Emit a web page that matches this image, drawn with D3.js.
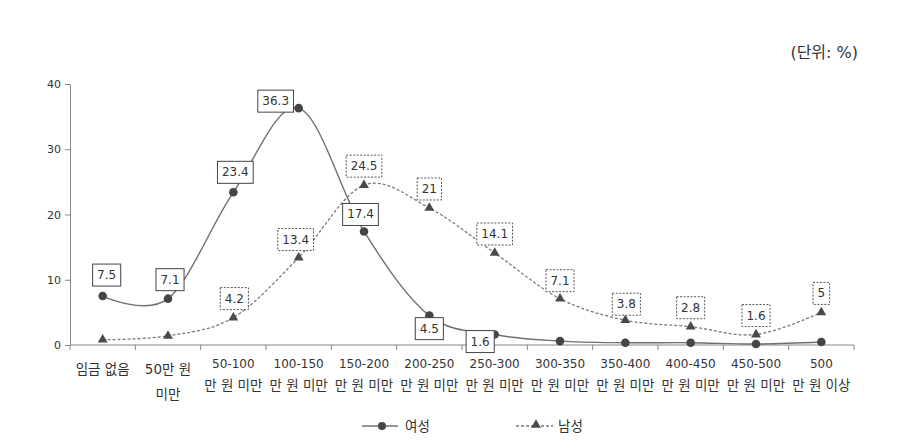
<!DOCTYPE html>
<html>
<head>
<meta charset="utf-8">
<script src="https://cdn.jsdelivr.net/npm/d3@7"></script>
<style>
  html, body { margin: 0; padding: 0; background: #fff; }
  svg { display: block; }
  text { font-family: "DejaVu Sans", "Noto Sans CJK KR", sans-serif; fill: #333; }
</style>
</head>
<body>
<svg id="chart" width="899" height="448"></svg>
<script>
// ---- data ----
const categories = ["임금 없음", "50만 원 미만", "50-100 만 원 미만", "100-150 만 원 미만", "150-200 만 원 미만",
  "200-250 만 원 미만", "250-300 만 원 미만", "300-350 만 원 미만", "350-400 만 원 미만", "400-450 만 원 미만",
  "450-500 만 원 미만", "500 만 원 이상"];
const categoryLines = [["임금 없음"], ["50만 원", "미만"], ["50-100", "만 원 미만"], ["100-150", "만 원 미만"],
  ["150-200", "만 원 미만"], ["200-250", "만 원 미만"], ["250-300", "만 원 미만"], ["300-350", "만 원 미만"],
  ["350-400", "만 원 미만"], ["400-450", "만 원 미만"], ["450-500", "만 원 미만"], ["500", "만 원 이상"]];
const women = [7.5, 7.1, 23.4, 36.3, 17.4, 4.5, 1.6, 0.6, 0.35, 0.35, 0.15, 0.45];
const men = [0.8, 1.4, 4.2, 13.4, 24.5, 21, 14.1, 7.1, 3.8, 2.8, 1.6, 5];
const womenLabels = ["7.5", "7.1", "23.4", "36.3", "17.4", "4.5", "1.6", null, null, null, null, null];
const menLabels = [null, null, "4.2", "13.4", "24.5", "21", "14.1", "7.1", "3.8", "2.8", "1.6", "5"];
const yTicks = [0, 10, 20, 30, 40];
const seriesNames = ["여성", "남성"];
const unitText = "(단위: %)";

// ---- layout (positions / styles) ----
const plot = { left: 70, right: 854, top: 84, bottom: 345 };
const womenLabelOffset = [[4, -21], [2, -19], [2, -20], [-23, -7], [-3.5, -17], [0, 13], [-14.5, 7]];
const menLabelOffset = { 2: [1, -19], 3: [-3, -18], 7: [0, -18], 8: [1, -16] };
const menDefaultOffset = [0, -19];

const svg = d3.select("#chart");

const x = d3.scaleBand().domain(categories).range([plot.left, plot.right]).padding(0);
const cx = d => x(d) + x.bandwidth() / 2;
const y = d3.scaleLinear().domain([0, 40]).range([plot.bottom, plot.top]);

const axisColor = "#868686";

// y axis
const yAxis = d3.axisLeft(y).tickValues(yTicks).tickSize(5).tickPadding(4);
const gy = svg.append("g").attr("transform", `translate(${plot.left},0)`).call(yAxis);
gy.select(".domain").attr("stroke", axisColor);
gy.selectAll(".tick line").attr("stroke", axisColor);
gy.selectAll(".tick text").style("font-size", "11px").attr("fill", "#222").style("font-family", "DejaVu Sans, sans-serif");

// x axis line + ticks at band edges
const edges = categories.map(c => x(c)).concat([plot.right]);
svg.append("line").attr("x1", plot.left).attr("x2", plot.right).attr("y1", y(0)).attr("y2", y(0))
  .attr("stroke", axisColor);
svg.append("g").selectAll("line").data(edges).join("line")
  .attr("x1", d => d).attr("x2", d => d).attr("y1", y(0)).attr("y2", y(0) + 5).attr("stroke", axisColor);

// x labels
const xl = svg.append("g");
const hasHangul = s => /[\uac00-\ud7a3]/.test(s);
categoryLines.forEach((lines, i) => {
  const t = xl.append("text").attr("text-anchor", "middle").attr("fill", "#222");
  const hangulFirst = hasHangul(lines[0]);
  const y1 = hangulFirst ? 374 : 368;
  const y2 = hangulFirst ? 399 : 390;
  t.append("tspan").attr("x", cx(categories[i])).attr("y", y1)
    .style("font-size", hasHangul(lines[0]) ? "13.5px" : "12px").text(lines[0]);
  if (lines[1]) t.append("tspan").attr("x", cx(categories[i])).attr("y", y2)
    .style("font-size", "13.5px").text(lines[1]);
});

// lines
const line = d3.line().x((d, i) => cx(categories[i])).y(d => y(d)).curve(d3.curveCardinal.tension(0));

svg.append("path").datum(women).attr("d", line).attr("fill", "none")
  .attr("stroke", "#6f6f6f").attr("stroke-width", 1.4);
svg.append("path").datum(men).attr("d", line).attr("fill", "none")
  .attr("stroke", "#7a7a7a").attr("stroke-width", 1.3).attr("stroke-dasharray", "3,2");

// markers
svg.append("g").selectAll("circle").data(women).join("circle")
  .attr("cx", (d, i) => cx(categories[i])).attr("cy", d => y(d)).attr("r", 4.3).attr("fill", "#454545");
const tri = d3.symbol().type(d3.symbolTriangle).size(42);
svg.append("g").selectAll("path").data(men).join("path")
  .attr("d", tri).attr("transform", (d, i) => `translate(${cx(categories[i])},${y(d)})`).attr("fill", "#4a4a4a");

// data labels
function drawLabel(g, txt, px, py, dashed) {
  const t = g.append("text").attr("x", px).attr("y", py).attr("text-anchor", "middle")
    .attr("dominant-baseline", "central").style("font-size", "12px").attr("fill", "#222").text(txt);
  const w = t.node().getComputedTextLength();
  g.insert("rect", "text").attr("x", px - w / 2 - 4.5).attr("y", py - 11).attr("width", w + 9).attr("height", 22)
    .attr("fill", "#fff").attr("stroke", dashed ? "#555" : "#444").attr("stroke-width", 1)
    .attr("stroke-dasharray", dashed ? "2,1.5" : null);
}
const labG = svg.append("g");
men.forEach((v, i) => {
  if (menLabels[i] == null) return;
  const off = menLabelOffset[i] || menDefaultOffset;
  drawLabel(labG.append("g"), menLabels[i], cx(categories[i]) + off[0], y(v) + off[1], true);
});
women.forEach((v, i) => {
  if (womenLabels[i] == null) return;
  const off = womenLabelOffset[i];
  drawLabel(labG.append("g"), womenLabels[i], cx(categories[i]) + off[0], y(v) + off[1], false);
});

// unit
svg.append("text").attr("x", 858).attr("y", 58).attr("text-anchor", "end")
  .style("font-size", "16px").attr("fill", "#222").text(unitText);

// legend
const lg = svg.append("g");
lg.append("line").attr("x1", 362).attr("x2", 398).attr("y1", 426).attr("y2", 426).attr("stroke", "#6f6f6f").attr("stroke-width", 1.4);
lg.append("circle").attr("cx", 382).attr("cy", 426).attr("r", 4).attr("fill", "#454545");
lg.append("text").attr("x", 405).attr("y", 426).attr("dominant-baseline", "central").style("font-size", "13.5px").attr("fill", "#222").text(seriesNames[0]);
lg.append("line").attr("x1", 516).attr("x2", 553).attr("y1", 426).attr("y2", 426).attr("stroke", "#7a7a7a").attr("stroke-width", 1.3).attr("stroke-dasharray", "3,2");
lg.append("path").attr("d", tri).attr("transform", "translate(536,425)").attr("fill", "#4a4a4a");
lg.append("text").attr("x", 558).attr("y", 426).attr("dominant-baseline", "central").style("font-size", "13.5px").attr("fill", "#222").text(seriesNames[1]);
</script>
</body>
</html>
